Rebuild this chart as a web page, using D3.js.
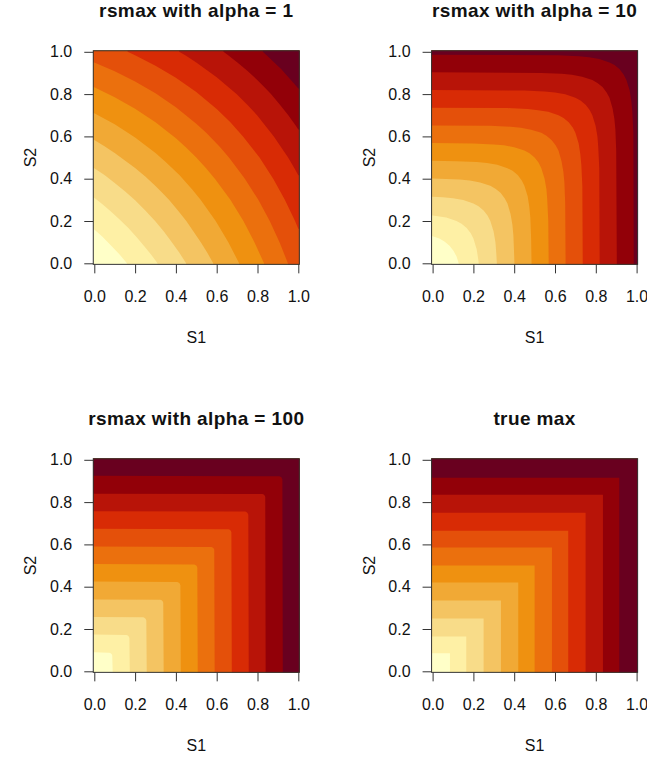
<!DOCTYPE html>
<html>
<head>
<meta charset="utf-8">
<script src="https://cdn.jsdelivr.net/npm/d3@7"></script>
<style>
body { margin: 0; background: #fff; }
text { font-family: "Liberation Sans", Arial, Helvetica, sans-serif; fill: #111; }
</style>
</head>
<body>
<script>
var width = 647, height = 762;

var titles = ["rsmax with alpha = 1", "rsmax with alpha = 10", "rsmax with alpha = 100", "true max"];
var tickValues = [0, 0.2, 0.4, 0.6, 0.8, 1];
var tickLabels = ["0.0", "0.2", "0.4", "0.6", "0.8", "1.0"];

// 12 colour levels, light -> dark
var levelColors = ["#FFFFC8", "#FEF0A5", "#F8DC89", "#F4C462", "#F1A935", "#EF9110",
                   "#EB700D", "#E4500A", "#D82B05", "#B81408", "#920008", "#69001F"];

// level boundaries: half of each curve, from the left/top edge
// to the diagonal [S1, S2] (the surfaces are symmetric in S1 and S2)
var curvesAlpha1 = [
  [[0,0.160],[0.04,0.125],[0.083,0.083]],
  [[0,0.310],[0.04,0.279],[0.08,0.246],[0.12,0.211],[0.167,0.167]],
  [[0,0.450],[0.05,0.417],[0.1,0.380],[0.15,0.341],[0.2,0.298],[0.25,0.25]],
  [[0,0.583],[0.05,0.554],[0.1,0.522],[0.2,0.451],[0.25,0.410],[0.3,0.366],[0.333,0.333]],
  [[0,0.710],[0.1,0.657],[0.2,0.595],[0.3,0.521],[0.35,0.479],[0.417,0.417]],
  [[0,0.832],[0.1,0.785],[0.2,0.731],[0.3,0.667],[0.4,0.591],[0.45,0.548],[0.5,0.5]],
  [[0,0.949],[0.1,0.908],[0.2,0.860],[0.3,0.804],[0.4,0.738],[0.5,0.660],[0.55,0.616],[0.583,0.583]],
  [[0.163,1],[0.2,0.984],[0.3,0.934],[0.4,0.877],[0.5,0.810],[0.6,0.729],[0.667,0.667]],
  [[0.416,1],[0.45,0.981],[0.5,0.950],[0.6,0.880],[0.7,0.798],[0.75,0.75]],
  [[0.633,1],[0.65,0.988],[0.7,0.951],[0.75,0.910],[0.8,0.866],[0.833,0.833]],
  [[0.826,1],[0.85,0.979],[0.9,0.933],[0.917,0.917]]
];

var curvesAlpha10 = [
  [[0,0.128],[0.033,0.117],[0.058,0.103],[0.083,0.083]],
  [[0,0.226],[0.017,0.224],[0.067,0.216],[0.117,0.200],[0.142,0.187],[0.167,0.167]],
  [[0,0.315],[0.05,0.312],[0.1,0.308],[0.15,0.299],[0.2,0.283],[0.225,0.270],[0.25,0.25]],
  [[0,0.401],[0.033,0.400],[0.133,0.396],[0.183,0.391],[0.233,0.382],[0.283,0.367],[0.308,0.353],[0.333,0.333]],
  [[0,0.485],[0.117,0.483],[0.217,0.479],[0.267,0.474],[0.317,0.466],[0.367,0.450],[0.392,0.437],[0.417,0.417]],
  [[0,0.569],[0.2,0.567],[0.3,0.562],[0.35,0.558],[0.4,0.549],[0.45,0.533],[0.475,0.520],[0.5,0.5]],
  [[0,0.652],[0.283,0.650],[0.383,0.646],[0.433,0.641],[0.483,0.632],[0.533,0.617],[0.558,0.603],[0.583,0.583]],
  [[0,0.736],[0.367,0.734],[0.467,0.729],[0.517,0.724],[0.567,0.716],[0.617,0.700],[0.642,0.687],[0.667,0.667]],
  [[0,0.819],[0.45,0.817],[0.55,0.812],[0.6,0.808],[0.65,0.799],[0.7,0.783],[0.725,0.770],[0.75,0.75]],
  [[0,0.903],[0.533,0.900],[0.633,0.896],[0.683,0.891],[0.733,0.882],[0.783,0.867],[0.808,0.853],[0.833,0.833]],
  [[0,0.986],[0.617,0.984],[0.717,0.979],[0.767,0.974],[0.817,0.966],[0.867,0.950],[0.892,0.937],[0.917,0.917]]
];

var curvesAlpha100 = [
  [[0,0.090],[0.073,0.088],[0.078,0.087],[0.083,0.083]],
  [[0,0.174],[0.157,0.172],[0.162,0.170],[0.167,0.167]],
  [[0,0.257],[0.24,0.255],[0.245,0.253],[0.25,0.25]],
  [[0,0.340],[0.323,0.338],[0.328,0.337],[0.333,0.333]],
  [[0,0.424],[0.407,0.422],[0.412,0.420],[0.417,0.417]],
  [[0,0.507],[0.49,0.505],[0.495,0.503],[0.5,0.5]],
  [[0,0.590],[0.573,0.588],[0.578,0.587],[0.583,0.583]],
  [[0,0.674],[0.657,0.672],[0.662,0.670],[0.667,0.667]],
  [[0,0.757],[0.74,0.755],[0.745,0.753],[0.75,0.75]],
  [[0,0.840],[0.823,0.838],[0.828,0.837],[0.833,0.833]],
  [[0,0.924],[0.907,0.922],[0.912,0.920],[0.917,0.917]]
];

var curvesTrueMax = [
  [[0,0.085],[0.085,0.085]],
  [[0,0.165],[0.165,0.165]],
  [[0,0.25],[0.25,0.25]],
  [[0,0.335],[0.335,0.335]],
  [[0,0.42],[0.42,0.42]],
  [[0,0.5],[0.5,0.5]],
  [[0,0.585],[0.585,0.585]],
  [[0,0.665],[0.665,0.665]],
  [[0,0.75],[0.75,0.75]],
  [[0,0.835],[0.835,0.835]],
  [[0,0.915],[0.915,0.915]]
];

var curveSets = [curvesAlpha1, curvesAlpha10, curvesAlpha100, curvesTrueMax];

var panelLeft = [94.3, 432.6, 94.3, 432.6],
    panelTop = [51.8, 51.8, 459.8, 459.8],
    pw = 204, ph = 211.5;

var svg = d3.select("body")
            .append("svg")
            .attr("width", width)
            .attr("height", height);

// polygon of the region at or above one level (upper right of the boundary)
function bandPolygon(half) {
  var mirrored = half.slice(0, -1).reverse().map(function(p){ return [p[1], p[0]]; });
  var pts = half.concat(mirrored);
  var first = pts[0], last = pts[pts.length - 1];
  var poly = [];
  if (first[0] === 0) poly.push([-0.1, first[1]]); else poly.push([first[0], 1.1]);
  poly = poly.concat(pts);
  if (last[1] === 0) { poly.push([last[0], -0.1]); poly.push([1.1, -0.1]); }
  else poly.push([1.1, last[1]]);
  poly.push([1.1, 1.1]);
  if (first[0] === 0) poly.push([-0.1, 1.1]);
  return poly;
}

titles.forEach(function(title, i) {
  var x = d3.scaleLinear().domain([0, 1]).range([panelLeft[i], panelLeft[i] + pw]);
  var y = d3.scaleLinear().domain([0, 1]).range([panelTop[i] + ph, panelTop[i]]);
  var g = svg.append("g");

  var bx = x(-0.005), by = y(1.005), bw = x(1.005) - x(-0.005), bh = y(-0.005) - y(1.005);

  g.append("clipPath")
   .attr("id", "clip" + i)
   .append("rect")
   .attr("x", bx).attr("y", by).attr("width", bw).attr("height", bh);

  var img = g.append("g").attr("clip-path", "url(#clip" + i + ")");

  img.append("rect")
     .attr("x", bx).attr("y", by).attr("width", bw).attr("height", bh)
     .style("fill", levelColors[0]);

  var line = d3.line().x(function(d){ return x(d[0]); }).y(function(d){ return y(d[1]); });

  img.selectAll(".band")
     .data(curveSets[i])
     .enter()
     .append("path")
     .attr("class", "band")
     .attr("d", function(d){ return line(bandPolygon(d)) + "Z"; })
     .style("fill", function(d, k){ return levelColors[k + 1]; });

  // axes
  var xAxis = d3.axisBottom(x)
                .tickValues(tickValues)
                .tickFormat(function(d, j){ return tickLabels[j]; })
                .tickSize(9)
                .tickPadding(17);
  var yAxis = d3.axisLeft(y)
                .tickValues(tickValues)
                .tickFormat(function(d, j){ return tickLabels[j]; })
                .tickSize(9)
                .tickPadding(12);

  var gx = g.append("g").attr("transform", "translate(0," + (by + bh) + ")").call(xAxis);
  var gy = g.append("g").attr("transform", "translate(" + bx + ",0)").call(yAxis);
  [gx, gy].forEach(function(a) {
    a.select(".domain").remove();
    a.selectAll("line").style("stroke", "#333").style("stroke-width", 1);
    a.selectAll("text")
     .style("font-size", "16px")
     .style("font-family", "'Liberation Sans', Arial, Helvetica, sans-serif")
     .style("fill", "#111");
  });

  // box
  g.append("rect")
   .attr("x", bx).attr("y", by).attr("width", bw).attr("height", bh)
   .style("fill", "none")
   .style("stroke", "#333")
   .style("stroke-width", 1);

  // title and axis titles
  g.append("text")
   .text(title)
   .attr("x", panelLeft[i] + pw / 2)
   .attr("y", panelTop[i] - 35)
   .attr("text-anchor", "middle")
   .style("font-size", "19px")
   .style("font-weight", "bold")
   .style("letter-spacing", "0.4px");

  g.append("text")
   .text("S1")
   .attr("x", panelLeft[i] + pw / 2)
   .attr("y", panelTop[i] + ph + 80)
   .attr("text-anchor", "middle")
   .style("font-size", "16px");

  g.append("text")
   .text("S2")
   .attr("transform", "translate(" + (panelLeft[i] - 58) + "," + (panelTop[i] + ph / 2) + ") rotate(-90)")
   .attr("text-anchor", "middle")
   .style("font-size", "16px");
});
</script>
</body>
</html>
